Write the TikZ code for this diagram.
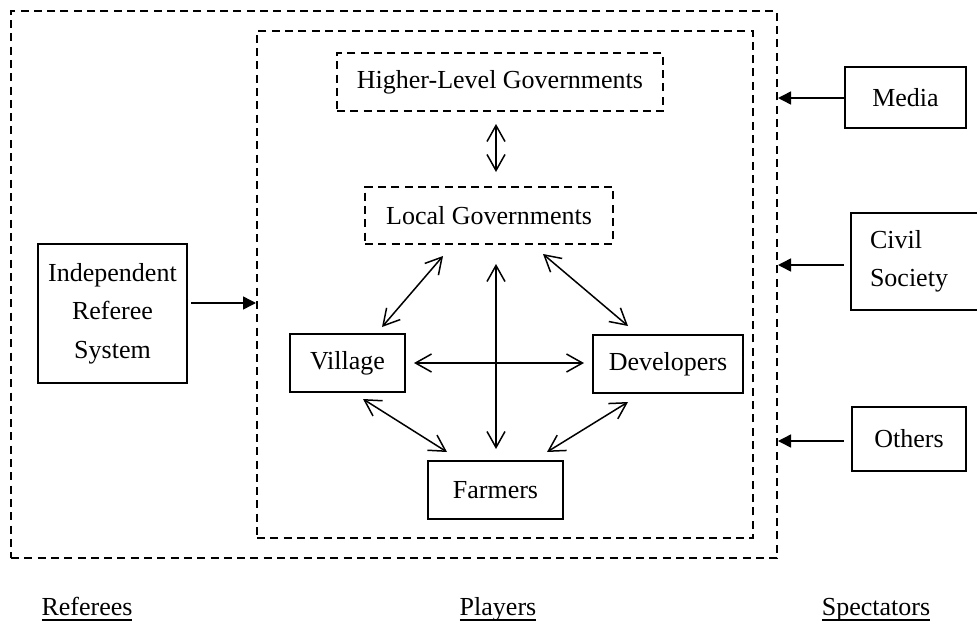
\documentclass[tikz,border=0pt]{standalone}
\usepackage{fontspec}
\setmainfont{Liberation Serif}
\usetikzlibrary{arrows.meta}
% underline drawn as a rule a little below the baseline
\newcommand{\undl}[1]{\leavevmode\setbox0=\hbox{#1}\rlap{\rule[-5.5pt]{\wd0}{1.8pt}}\box0}
\begin{document}
\begin{tikzpicture}[x=1pt,y=-1pt,
  every node/.style={font=\fontsize{26}{38.5}\selectfont, inner sep=0pt},
  solidbox/.style={draw, line width=2pt, align=center},
  dashbox/.style={draw, line width=2pt, dash pattern=on 8pt off 5.3pt},
  barb/.style={Straight Barb[length=16pt,width=18pt,line width=1.5pt]},
  dbl/.style={line width=1.5pt, {Straight Barb[length=16pt,width=18pt,line width=1.5pt]}-{Straight Barb[length=16pt,width=18pt,line width=1.5pt]}},
  sidearrow/.style={line width=1.5pt, -{Triangle[length=13pt,width=13pt]}}]
\useasboundingbox (0,0) rectangle (977,621);
\clip (0,0) rectangle (977,621);

% frames of the game
\node[dashbox, minimum width=766, minimum height=547] (outer) at (394,284.5) {};
\node[dashbox, minimum width=496, minimum height=507] (inner) at (505,284.5) {};

% players
\node[dashbox, minimum width=326, minimum height=58] (hlg) at (500,82) {Higher-Level Governments};
\node[dashbox, minimum width=248, minimum height=57] (local) at (489,215.5) {Local Governments};
\node[solidbox, minimum width=115, minimum height=58] (village) at (347.5,363) {Village};
\node[solidbox, minimum width=150, minimum height=58] (developers) at (668,364) {Developers};
\node[solidbox, minimum width=135, minimum height=58] (farmers) at (495.5,490) {Farmers};

% referee
\node[solidbox, minimum width=149, minimum height=139] (referee) at (112.5,313.5) {Independent\\Referee\\System};

% spectators
\node[solidbox, minimum width=121, minimum height=61] (media) at (905.5,97.5) {Media};
\node[solidbox, minimum width=150, minimum height=97, inner xsep=19pt, text width=112pt, align=left] (civil) at (926,261.5) {Civil\\Society};
\node[solidbox, minimum width=114, minimum height=64] (others) at (909,439) {Others};

% column headings
\node[anchor=base] (referees) at (87,615) {\undl{Referees}};
\node[anchor=base] (players) at (498,615) {\undl{Players}};
\node[anchor=base] (spectators) at (876,615) {\undl{Spectators}};

% relations among players
\draw[dbl] ([shift={(-4pt,-12pt)}]hlg.south) -- ([shift={(7pt,14pt)}]local.north);
\draw[dbl] ([shift={(34.5pt,6pt)}]village.north) -- ([shift={(-46pt,-11pt)}]local.south);
\draw[dbl] ([shift={(7pt,-19pt)}]local.south) -- ([shift={(0.5pt,11pt)}]farmers.north);
\draw[dbl] ([shift={(54pt,-9pt)}]local.south) -- ([shift={(-40pt,8pt)}]developers.north);
\draw[dbl] ([shift={(8pt,0pt)}]village.east) -- ([shift={(-8pt,1pt)}]developers.west);
\draw[dbl] ([shift={(15.5pt,-6pt)}]village.south) -- ([shift={(-48.5pt,8pt)}]farmers.north);
\draw[dbl] ([shift={(-40pt,-8pt)}]developers.south) -- ([shift={(51.5pt,8pt)}]farmers.north);

% influence from outside
\coordinate (refout) at ([shift={(3pt,10.5pt)}]referee.east);
\draw[sidearrow] (refout) -- (refout -| inner.west);
\coordinate (mediaout) at ([shift={(0pt,-0.5pt)}]media.west);
\draw[sidearrow] (mediaout) -- (mediaout -| outer.east);
\coordinate (civilout) at ([shift={(-6pt,-3.5pt)}]civil.west);
\draw[sidearrow] (civilout) -- (civilout -| outer.east);
\coordinate (othersout) at ([shift={(-7pt,-2pt)}]others.west);
\draw[sidearrow] (othersout) -- (othersout -| outer.east);
\end{tikzpicture}
\end{document}
